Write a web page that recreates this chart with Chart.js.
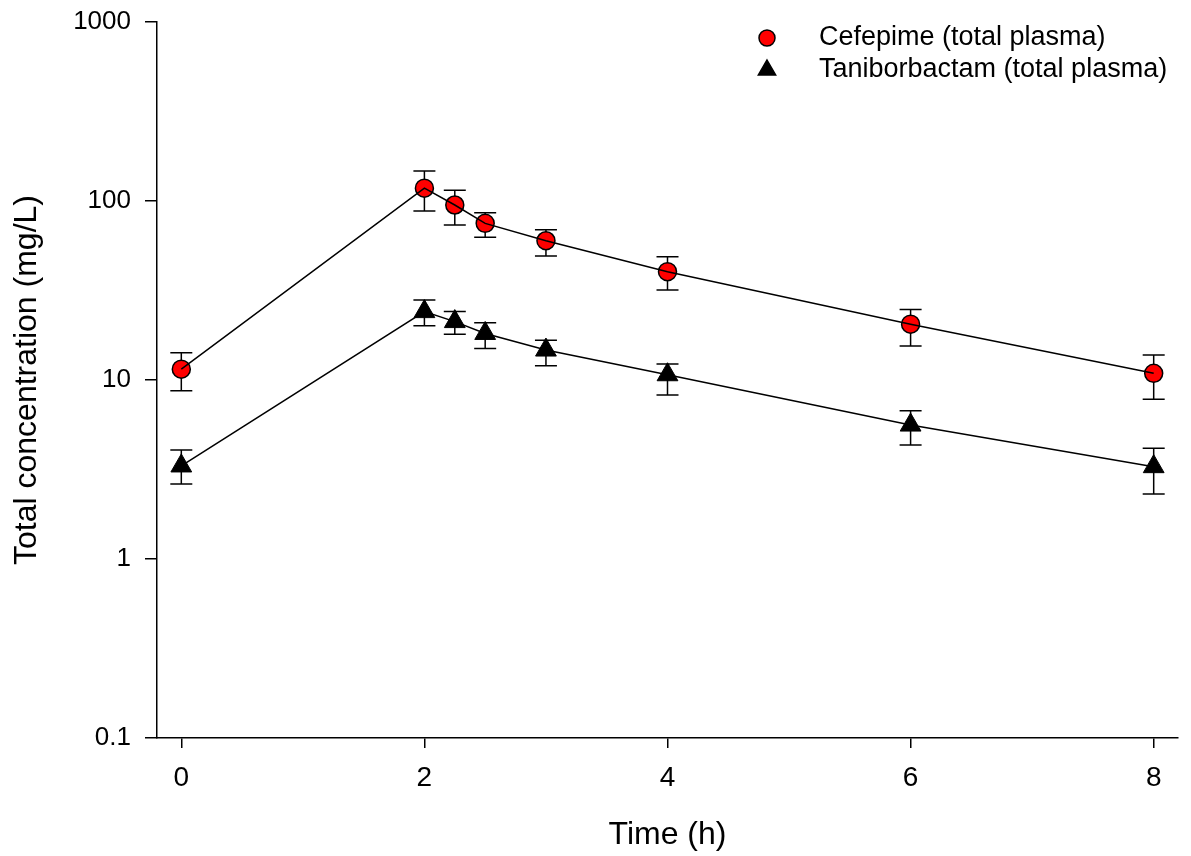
<!DOCTYPE html>
<html>
<head>
<meta charset="utf-8">
<title>Total plasma concentration</title>
<script src="https://cdn.jsdelivr.net/npm/chart.js@4.4.1/dist/chart.umd.min.js"></script>
<style>
  html, body { margin: 0; padding: 0; background: #fff; }
  #wrap { width: 1191px; height: 856px; }
</style>
</head>
<body>
<div id="wrap"><canvas id="pkChart" width="1191" height="856"></canvas></div>
<script>
// sampling times (h)
const times = [0, 2, 2.25, 2.5, 3, 4, 6, 8];

// cefepime, total plasma (mg/L): mean and error bar ends
const cefMean  = [11.5, 118, 95, 75, 60, 40.3, 20.5, 10.9];
const cefUpper = [14.2, 147, 115, 86, 69, 48.8, 24.8, 13.8];
const cefLower = [8.7, 88, 73.4, 62.7, 49.3, 31.8, 15.5, 7.8];

// taniborbactam, total plasma (mg/L)
const tanMean  = [3.31, 24.1, 21.2, 18.2, 14.7, 10.7, 5.6, 3.28];
const tanUpper = [4.06, 28.0, 24.1, 20.9, 16.7, 12.3, 6.74, 4.15];
const tanLower = [2.62, 20.1, 18.0, 15.0, 12.0, 8.25, 4.33, 2.31];

const seriesNames = ["Cefepime (total plasma)", "Taniborbactam (total plasma)"];
const xTicks = [0, 2, 4, 6, 8];
const yTicks = [0.1, 1, 10, 100, 1000];

const FONT = "'Liberation Sans', Arial, sans-serif";

function pts(ys) {
  return times.map((t, i) => ({ x: t, y: ys[i] }));
}

// error bars, drawn under the markers
const errorBars = {
  id: "errorBars",
  beforeDatasetsDraw(chart) {
    const ctx = chart.ctx;
    const xs = chart.scales.x, ys = chart.scales.y;
    ctx.save();
    ctx.strokeStyle = "#000";
    ctx.lineWidth = 1.5;
    chart.data.datasets.forEach(ds => {
      if (!ds.upper) return;
      times.forEach((t, i) => {
        const x = xs.getPixelForValue(t);
        const yt = ys.getPixelForValue(ds.upper[i]);
        const yb = ys.getPixelForValue(ds.lower[i]);
        ctx.beginPath();
        ctx.moveTo(x, yt); ctx.lineTo(x, yb);
        ctx.moveTo(x - 11, yt); ctx.lineTo(x + 11, yt);
        ctx.moveTo(x - 11, yb); ctx.lineTo(x + 11, yb);
        ctx.stroke();
      });
    });
    ctx.restore();
  }
};

// legend in the upper right corner
const cornerLegend = {
  id: "cornerLegend",
  afterDraw(chart) {
    const ctx = chart.ctx;
    const marks = chart.data.datasets.filter(ds => ds.upper);
    ctx.save();
    marks.forEach((ds, i) => {
      const y = 38 + i * 32;
      ctx.fillStyle = ds.pointBackgroundColor;
      ctx.strokeStyle = "#000";
      ctx.lineWidth = 1.5;
      ctx.beginPath();
      if (ds.pointStyle === "triangle") {
        const r = 10;
        ctx.moveTo(767, y - r);
        ctx.lineTo(767 + r * 0.866, y + r * 0.5);
        ctx.lineTo(767 - r * 0.866, y + r * 0.5);
        ctx.closePath();
      } else {
        ctx.arc(767, y, 8, 0, Math.PI * 2);
      }
      ctx.fill();
      ctx.stroke();
      ctx.fillStyle = "#000";
      ctx.font = "27px " + FONT;
      ctx.textBaseline = "middle";
      ctx.textAlign = "left";
      ctx.fillText(ds.label, 819, y);
    });
    ctx.restore();
  }
};

const ctx = document.getElementById("pkChart").getContext("2d");
new Chart(ctx, {
  type: "scatter",
  data: {
    datasets: [
      // connecting lines (drawn on top of the markers)
      { label: "cefLine", data: pts(cefMean), showLine: true, borderColor: "#000", borderWidth: 1.5, pointRadius: 0, order: 0 },
      { label: "tanLine", data: pts(tanMean), showLine: true, borderColor: "#000", borderWidth: 1.5, pointRadius: 0, order: 0 },
      // markers
      { label: seriesNames[0], data: pts(cefMean), upper: cefUpper, lower: cefLower, showLine: false,
        pointStyle: "circle", pointRadius: 9, pointBackgroundColor: "#ff0000", pointBorderColor: "#000", pointBorderWidth: 1.5, order: 1 },
      { label: seriesNames[1], data: pts(tanMean), upper: tanUpper, lower: tanLower, showLine: false,
        pointStyle: "triangle", pointRadius: 12, pointBackgroundColor: "#000", pointBorderColor: "#000", pointBorderWidth: 1, order: 1 }
    ]
  },
  options: {
    responsive: false,
    animation: false,
    layout: { padding: { top: 22, right: 10, left: 0, bottom: 0 } },
    plugins: { legend: { display: false }, tooltip: { enabled: false } },
    scales: {
      x: {
        type: "linear",
        min: -0.2,
        max: 8.2,
        afterBuildTicks: s => { s.ticks = xTicks.map(v => ({ value: v })); },
        afterFit: s => { s.height = 118; s.paddingLeft = 0; s.paddingRight = 0; },
        grid: { drawOnChartArea: false, drawTicks: true, tickLength: 10, color: "#000", lineWidth: 1.5 },
        border: { display: true, color: "#000", width: 1.5 },
        ticks: { color: "#000", font: { family: FONT, size: 28 }, padding: 13, callback: v => String(v) },
        title: { display: true, text: "Time (h)", color: "#000", font: { family: FONT, size: 32 }, padding: { top: 0, bottom: 2 } }
      },
      y: {
        type: "logarithmic",
        min: 0.1,
        max: 1000,
        afterBuildTicks: s => { s.ticks = yTicks.map(v => ({ value: v })); },
        afterFit: s => { s.width = 157; s.paddingTop = 0; s.paddingBottom = 0; },
        grid: { drawOnChartArea: false, drawTicks: true, tickLength: 12, color: "#000", lineWidth: 1.5 },
        border: { display: true, color: "#000", width: 1.5 },
        ticks: { color: "#000", font: { family: FONT, size: 26 }, padding: 14, callback: v => String(v) },
        title: { display: true, text: "Total concentration (mg/L)", color: "#000", font: { family: FONT, size: 32 }, padding: { top: 8, bottom: 0 } }
      }
    }
  },
  plugins: [errorBars, cornerLegend]
});
</script>
</body>
</html>
